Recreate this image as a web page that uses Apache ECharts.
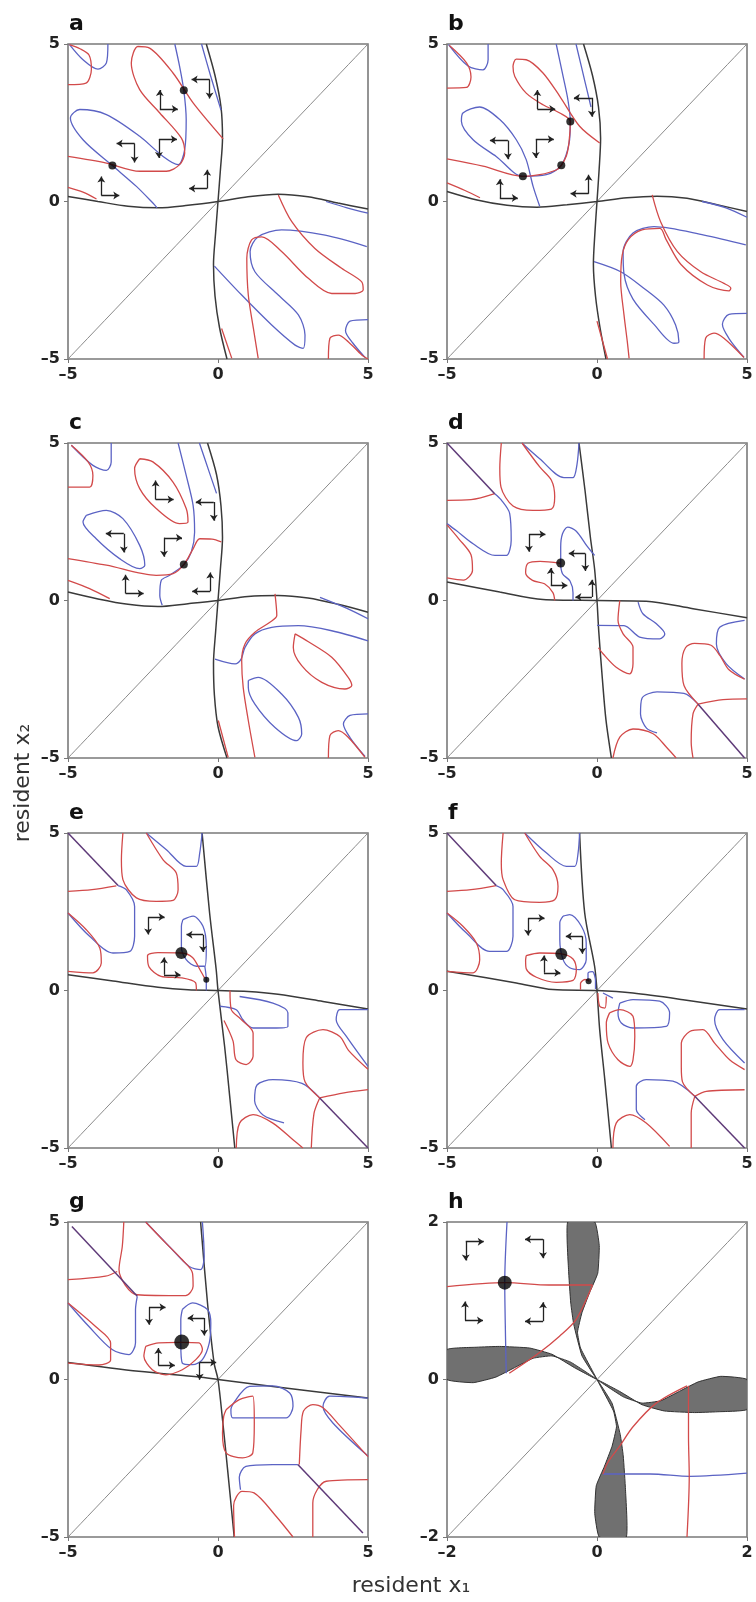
<!DOCTYPE html>
<html>
<head>
<meta charset="utf-8">
<script src="https://cdn.jsdelivr.net/npm/echarts@6/dist/echarts.min.js"></script>
<style>
  html, body { margin: 0; padding: 0; background: #fff; }
  #chart { width: 756px; height: 1602px; }
</style>
</head>
<body>
<div id="chart"></div>
<script>
// ---- data (resident x1, resident x2) ----
const letters = ['a', 'b', 'c', 'd', 'e', 'f', 'g', 'h']
const ticks5 = [-5, 0, 5]
const ticks2 = [-2, 0, 2]
const diag5 = [[-5, -5], [5, 5]]
const diag2 = [[-2, -2], [2, 2]]

// panel a
const aBlack = [
  [[-0.39, 5], [-0.1, 4], [0.1, 3], [0.15, 2], [0.08, 1], [0, 0], [-0.08, -1], [-0.15, -2], [-0.1, -3], [0.05, -4], [0.3, -5]],
  [[-5, 0.16], [-4, 0], [-3, -0.15], [-2, -0.2], [-1, -0.12], [0, 0], [1, 0.15], [2, 0.23], [3, 0.15], [4, -0.05], [5, -0.24]]
]
const aRed = [
  [[-5, 1.43], [-3.72, 1.22], [-2.61, 0.96], [-1.72, 0.96], [-1.28, 1.17], [-1.11, 1.54], [-1.22, 2.01], [-1.94, 2.81], [-2.61, 3.55], [-2.89, 4.4], [-2.67, 4.92], [-2.28, 4.87], [-1.5, 4.08], [-0.83, 3.13], [0.17, 1.99]],
  [[-5, 3.71], [-4.4, 3.76], [-4.22, 4.2], [-4.3, 4.65], [-4.6, 4.85], [-4.95, 4.98]],
  [[-5, 0.45], [-4.5, 0.3], [-4.05, 0.08]],
  [[2.01, 0.21], [2.46, -0.64], [3.23, -1.49], [4.12, -2.12], [4.79, -2.55], [4.84, -2.81], [4.57, -2.92], [3.79, -2.92], [3.01, -2.44], [2.12, -1.59], [1.46, -1.12], [1.12, -1.22], [0.96, -1.8], [1.01, -2.97], [1.18, -4.03], [1.34, -4.98]],
  [[3.68, -5], [3.73, -4.34], [4.01, -4.24], [4.34, -4.45], [4.79, -4.87], [5, -5]],
  [[0.12, -4.03], [0.46, -4.98]]
]
const aBlue = [
  [[-1.44, 5], [-1.28, 4.29], [-1.14, 3.53], [-1.06, 2.6], [-1.11, 1.65], [-1.33, 1.17], [-1.83, 1.43], [-2.61, 2.07], [-3.72, 2.76], [-4.61, 2.92], [-4.92, 2.65], [-4.5, 1.96], [-3.52, 1.14], [-2.72, 0.48], [-2.17, -0.05], [-2.03, -0.2]],
  [[-4.95, 4.98], [-4.5, 4.5], [-4.0, 4.2], [-3.72, 4.4], [-3.67, 5]],
  [[-0.55, 5], [-0.25, 4.0], [0.1, 2.9]],
  [[4.96, -1.43], [3.57, -1.07], [2.12, -0.9], [1.34, -1.12], [1.07, -1.59], [1.23, -2.23], [2.01, -2.97], [2.68, -3.6], [2.9, -4.24], [2.84, -4.66], [2.57, -4.56], [1.79, -3.92], [0.79, -2.97], [-0.12, -2.05]],
  [[3.6, 0.0], [4.3, -0.2], [5, -0.37]],
  [[5, -3.75], [4.4, -3.8], [4.25, -4.1], [4.5, -4.5], [4.9, -4.95]]
]
const aDots = [[-3.52, 1.14], [-1.14, 3.53]]
const aArrows = [[-1.94, 2.94, 1, 1], [-0.28, 3.87, -1, -1], [-2.78, 1.84, -1, -1], [-1.97, 1.98, 1, -1], [-3.89, 0.19, 1, 1], [-0.36, 0.41, -1, 1]]

// panel b
const bBlack = [
  [[-0.45, 5], [-0.15, 4], [0.05, 3], [0.12, 2], [0.07, 1], [0, 0], [-0.07, -1], [-0.12, -2], [-0.05, -3], [0.1, -4], [0.3, -5]],
  [[-5, 0.32], [-4, 0.05], [-3, -0.12], [-2, -0.18], [-1, -0.1], [0, 0], [1, 0.12], [2, 0.17], [3, 0.1], [4, -0.1], [5, -0.32]]
]
const bRed = [
  [[-5, 1.35], [-3.8, 1.12], [-2.47, 0.8], [-1.91, 0.85], [-1.36, 1.0], [-1.19, 1.15], [-1.02, 1.45], [-0.93, 1.9], [-0.89, 2.54], [-1.24, 2.81], [-1.8, 3.07], [-2.36, 3.44], [-2.74, 3.97], [-2.8, 4.29], [-2.69, 4.52], [-2.36, 4.5], [-1.8, 4.08], [-1.24, 3.34], [-0.58, 2.39], [0.09, 1.86]],
  [[-5, 3.6], [-4.35, 3.62], [-4.2, 3.95], [-4.35, 4.4], [-4.92, 4.95]],
  [[-5, 0.59], [-4.4, 0.35], [-3.9, 0.12]],
  [[1.84, 0.21], [2.12, -0.64], [2.68, -1.59], [3.46, -2.23], [4.23, -2.6], [4.46, -2.75], [4.4, -2.84], [3.68, -2.65], [2.8, -2.0], [2.3, -1.2], [2.1, -0.85], [1.5, -0.9], [1.05, -1.2], [0.84, -1.7], [0.79, -2.54], [0.9, -3.6], [1.01, -4.45], [1.07, -4.98]],
  [[3.57, -5], [3.62, -4.34], [3.9, -4.18], [4.23, -4.34], [4.9, -4.95]],
  [[0.0, -3.8], [0.35, -5]]
]
const bBlue = [
  [[-1.91, -0.15], [-2.13, 0.48], [-2.36, 1.33], [-2.69, 1.96], [-3.24, 2.6], [-3.91, 3.0], [-4.47, 2.81], [-4.52, 2.55], [-4.13, 1.96], [-3.36, 1.43], [-2.47, 0.8], [-1.69, 0.85], [-1.19, 1.15], [-0.93, 1.85], [-0.89, 2.54], [-0.97, 3.23], [-1.13, 3.97], [-1.36, 5]],
  [[-4.95, 4.98], [-4.3, 4.3], [-3.8, 4.18], [-3.63, 4.5], [-3.63, 5]],
  [[-0.7, 5], [-0.4, 3.8], [-0.2, 3.0]],
  [[-0.1, -1.91], [0.79, -2.23], [1.57, -2.76], [2.23, -3.29], [2.62, -3.92], [2.73, -4.45], [2.57, -4.5], [1.9, -3.9], [1.2, -3.1], [0.9, -2.3], [0.87, -1.6], [1.2, -1.0], [1.9, -0.8], [3.57, -1.07], [4.96, -1.38]],
  [[3.5, 0.0], [4.3, -0.2], [5, -0.5]],
  [[5, -3.55], [4.4, -3.58], [4.18, -3.9], [4.4, -4.35], [4.9, -4.95]]
]
const bDots = [[-0.89, 2.54], [-1.19, 1.15], [-2.47, 0.8]]
const bArrows = [[-1.99, 2.94, 1, 1], [-0.17, 3.29, -1, -1], [-2.97, 1.94, -1, -1], [-2.04, 1.98, 1, -1], [-3.24, 0.11, 1, 1], [-0.28, 0.25, -1, 1]]

// panel c
const cBlack = [
  [[-0.35, 5], [-0.05, 4], [0.1, 3], [0.15, 2], [0.08, 1], [0, 0], [-0.08, -1], [-0.15, -2], [-0.12, -3], [0, -4], [0.3, -5]],
  [[-5, 0.27], [-4, 0.05], [-3, -0.12], [-2, -0.19], [-1, -0.1], [0, 0], [1, 0.13], [2, 0.16], [3, 0.08], [4, -0.12], [5, -0.37]]
]
const cRed = [
  [[-2.61, 4.5], [-2.17, 4.4], [-1.5, 3.76], [-1.06, 2.92], [-1.0, 2.49], [-1.28, 2.44], [-2.06, 2.92], [-2.61, 3.55], [-2.78, 4.19], [-2.61, 4.5]],
  [[-5, 1.33], [-3.72, 1.12], [-2.06, 0.8], [-1.5, 0.85], [-1.14, 1.14], [-0.83, 1.64], [-0.61, 1.96], [-0.2, 1.95], [0.11, 1.86]],
  [[-5, 3.6], [-4.28, 3.6], [-4.17, 3.97], [-4.33, 4.4], [-4.89, 4.93]],
  [[-5, 0.64], [-4.28, 0.38], [-3.61, 0.06]],
  [[1.9, 0.21], [1.96, -0.48], [1.73, -0.69], [1.23, -1.01], [0.9, -1.38], [0.79, -1.91], [0.84, -2.76], [1.01, -3.81], [1.23, -4.98]],
  [[2.57, -1.06], [3.0, -1.3], [3.79, -1.8], [4.34, -2.44], [4.46, -2.7], [4.23, -2.81], [3.46, -2.6], [2.79, -2.07], [2.51, -1.49], [2.57, -1.06]],
  [[3.68, -5], [3.73, -4.29], [4.01, -4.13], [4.34, -4.34], [4.9, -4.98]],
  [[0.01, -3.81], [0.34, -4.98]]
]
const cBlue = [
  [[-1.33, 5], [-1.06, 3.97], [-0.83, 3.02], [-0.78, 2.17], [-0.89, 1.54], [-1.14, 1.14], [-1.61, 0.8], [-1.89, 0.64], [-1.94, 0.16], [-1.86, -0.15]],
  [[-4.39, 2.7], [-3.72, 2.86], [-3.17, 2.6], [-2.61, 1.75], [-2.44, 1.12], [-2.61, 1.01], [-3.28, 1.33], [-4.06, 1.96], [-4.5, 2.49], [-4.39, 2.7]],
  [[-4.89, 4.93], [-4.17, 4.29], [-3.72, 4.13], [-3.56, 4.4], [-3.56, 5]],
  [[-0.62, 5], [-0.3, 4.1], [-0.05, 3.4]],
  [[-0.1, -1.86], [0.57, -2.01], [0.77, -1.86], [0.9, -1.49], [1.23, -1.06], [1.79, -0.85], [2.68, -0.8], [3.79, -0.96], [5, -1.28]],
  [[1.01, -2.54], [1.34, -2.44], [2.12, -2.97], [2.68, -3.71], [2.79, -4.24], [2.62, -4.45], [1.9, -4.03], [1.23, -3.29], [1.01, -2.76], [1.01, -2.54]],
  [[3.4, 0.1], [4.3, -0.25], [5, -0.58]],
  [[5, -3.6], [4.4, -3.65], [4.18, -3.92], [4.4, -4.35], [4.9, -4.95]]
]
const cDots = [[-1.14, 1.14]]
const cArrows = [[-2.08, 3.21, 1, 1], [-0.14, 3.13, -1, -1], [-3.14, 2.12, -1, -1], [-1.8, 1.99, 1, -1], [-3.08, 0.22, 1, 1], [-0.26, 0.29, -1, 1]]

// panel d
const dBlack = [
  [[-0.6, 5], [-0.4, 3.5], [-0.22, 2], [-0.08, 1], [0, 0], [0.06, -1], [0.18, -2.5], [0.3, -3.8], [0.48, -5]],
  [[-5, 0.59], [-3.24, 0.27], [-1.8, 0.03], [0, 0], [1.64, -0.02], [3.2, -0.26], [5, -0.55]]
]
const dRed = [
  [[-5, 3.18], [-4.2, 3.2], [-3.41, 3.39]],
  [[-3.19, 5], [-3.24, 4.2], [-3.2, 3.6], [-2.8, 3.0], [-2.13, 2.86], [-1.52, 2.9], [-1.41, 3.3], [-1.52, 3.82], [-1.91, 4.24], [-2.5, 5]],
  [[-5, 0.72], [-4.45, 0.65], [-4.15, 0.95], [-4.2, 1.45], [-4.6, 1.95], [-5, 2.4]],
  [[-1.41, 0], [-1.47, 0.25], [-1.75, 0.53], [-2.15, 0.64], [-2.38, 0.88], [-2.3, 1.18], [-1.9, 1.24], [-1.21, 1.18]],
  [[0.76, 0], [0.7, -0.63], [0.87, -1.06], [1.2, -1.48], [1.2, -2.01], [1.09, -2.33], [0.64, -2.12], [0.2, -1.69], [0.05, -1.5]],
  [[3.37, -3.29], [2.9, -2.7], [2.83, -2.0], [2.95, -1.5], [3.25, -1.36], [3.8, -1.42], [4.1, -1.75], [4.4, -2.2], [4.92, -2.5]],
  [[5, -3.12], [4.2, -3.15], [3.37, -3.29]],
  [[0.53, -5], [0.76, -4.34], [1.2, -4.08], [1.87, -4.23], [2.31, -4.65], [2.64, -5]],
  [[3.37, -3.29], [3.2, -3.6], [3.14, -4.5], [3.2, -5]]
]
const dBlue = [
  [[-2.5, 5], [-1.91, 4.5], [-1.1, 3.9], [-0.8, 3.9], [-0.67, 4.3], [-0.6, 5]],
  [[-5, 2.44], [-4.69, 2.22], [-4.13, 1.8], [-3.4, 1.43], [-3.02, 1.43], [-2.86, 1.91], [-2.91, 2.76], [-3.2, 3.2], [-3.41, 3.39]],
  [[-0.8, 0], [-0.8, 0.25], [-0.9, 0.62], [-1.15, 0.85], [-1.21, 1.18], [-1.21, 1.7], [-1.15, 2.12], [-0.98, 2.33], [-0.69, 2.2], [-0.35, 1.75], [-0.08, 1.43]],
  [[1.37, -0.05], [1.53, -0.42], [1.98, -0.74], [2.26, -1.06], [2.09, -1.22], [1.42, -1.16], [0.9, -0.8], [0, -0.79]],
  [[4.92, -0.63], [4.09, -0.85], [3.98, -1.38], [4.31, -2.01], [4.92, -2.49]],
  [[3.37, -3.29], [2.9, -2.95], [2.0, -2.9], [1.5, -3.1], [1.45, -3.6], [1.65, -4.05], [2.0, -4.2]]
]
const dPurple = [[[-5, 5], [-3.41, 3.39]], [[3.37, -3.29], [4.92, -5]]]
const dDots = [[-1.21, 1.19]]
const dArrows = [[-2.27, 2.1, 1, -1], [-0.39, 1.49, -1, -1], [-1.54, 0.48, 1, 1], [-0.17, 0.11, -1, 1]]

// panel e
const eBlack = [
  [[-0.53, 5], [-0.28, 2.46], [-0.06, 0.66], [0, 0], [0.22, -1.77], [0.39, -3.36], [0.56, -5]],
  [[-5, 0.5], [-3.5, 0.3], [-2, 0.1], [-1, 0.02], [0, 0], [1, -0.03], [2, -0.12], [3.5, -0.35], [5, -0.59]]
]
const eRed = [
  [[-5, 3.15], [-4.2, 3.2], [-3.39, 3.32]],
  [[-3.17, 5], [-3.22, 4.15], [-3.17, 3.52], [-2.72, 2.94], [-2.06, 2.83], [-1.5, 2.86], [-1.33, 3.2], [-1.39, 3.73], [-1.83, 4.15], [-2.39, 5]],
  [[-5, 0.61], [-4.17, 0.56], [-3.89, 0.87], [-3.94, 1.35], [-4.39, 1.93], [-5, 2.46]],
  [[-0.72, 0.0], [-0.75, 0.25], [-1.2, 0.4], [-1.9, 0.45], [-2.3, 0.75], [-2.35, 1.1], [-2.0, 1.2], [-1.22, 1.19], [-0.85, 1.05], [-0.6, 0.66], [-0.45, 0.4]],
  [[0.4, 0], [0.44, -0.6], [0.75, -0.9], [1.17, -1.35], [1.17, -2.09], [0.94, -2.35], [0.6, -2.2], [0.5, -1.6], [0.2, -0.95]],
  [[3.39, -3.41], [2.9, -2.9], [2.83, -2.3], [2.94, -1.5], [3.5, -1.24], [4.06, -1.46], [4.35, -1.9], [5, -2.5]],
  [[5, -3.15], [4.2, -3.25], [3.39, -3.41]],
  [[0.61, -5], [0.72, -4.21], [1.17, -3.94], [1.83, -4.21], [2.5, -4.74], [2.83, -5]],
  [[3.39, -3.41], [3.2, -3.9], [3.11, -5]]
]
const eBlue = [
  [[-2.39, 5], [-1.72, 4.47], [-1.06, 3.94], [-0.72, 3.94], [-0.61, 4.36], [-0.53, 5]],
  [[-5, 2.46], [-4.28, 1.72], [-3.5, 1.19], [-2.94, 1.24], [-2.78, 1.72], [-2.78, 2.67], [-3.06, 3.2], [-3.33, 3.33]],
  [[-1.17, 2.25], [-0.83, 2.36], [-0.5, 2.04], [-0.39, 1.4], [-0.44, 0.77], [-0.72, 0.77], [-1.06, 0.98], [-1.22, 1.4], [-1.22, 2.04], [-1.17, 2.25]],
  [[-0.39, 0], [-0.39, 0.34], [-0.44, 0.77]],
  [[0.06, -0.5], [0.61, -0.61], [0.83, -0.93], [1.17, -1.19], [1.83, -1.19], [2.33, -1.14], [2.33, -0.71], [1.83, -0.4], [0.72, -0.19]],
  [[5, -0.61], [4.06, -0.61], [3.94, -0.93], [4.28, -1.46], [5, -2.41]],
  [[3.39, -3.41], [2.8, -2.95], [1.83, -2.83], [1.3, -3.0], [1.22, -3.5], [1.5, -3.95], [2.2, -4.2]]
]
const ePurple = [[[-5, 5], [-3.33, 3.33]], [[3.39, -3.41], [5, -5]]]
const eDots = [[-1.22, 1.19]]
const eSmallDots = [[-0.39, 0.34]]
const eArrows = [[-2.33, 2.33, 1, -1], [-0.5, 1.77, -1, -1], [-1.8, 0.5, 1, 1]]

// panel f
const fBlack = [
  [[-0.58, 5], [-0.41, 2.46], [-0.08, 0.77], [0, 0], [0.09, -1.25], [0.26, -2.83], [0.48, -5]],
  [[-5, 0.61], [-2.69, 0.24], [-1.47, 0.03], [0, 0], [1.2, -0.08], [2.87, -0.29], [5, -0.59]]
]
const fRed = [
  [[-5, 3.15], [-4.2, 3.2], [-3.36, 3.33]],
  [[-3.13, 5], [-3.19, 4.05], [-3.13, 3.52], [-2.74, 2.88], [-1.91, 2.8], [-1.41, 2.88], [-1.3, 3.31], [-1.47, 3.84], [-1.91, 4.26], [-2.41, 5]],
  [[-5, 0.61], [-4.13, 0.56], [-3.91, 0.98], [-4.02, 1.51], [-4.47, 2.04], [-5, 2.46]],
  [[-2.36, 1.11], [-1.91, 1.19], [-1.19, 1.16], [-0.8, 1.0], [-0.69, 0.64], [-0.8, 0.32], [-1.36, 0.26], [-2.02, 0.42], [-2.36, 0.69], [-2.38, 0.95], [-2.36, 1.11]],
  [[-0.55, 0.02], [-0.55, 0.22], [-0.4, 0.35], [-0.25, 0.3]],
  [[0.03, -0.08], [0.09, -0.5], [0.26, -0.56], [0.31, -0.19]],
  [[0.42, -0.71], [0.76, -0.61], [1.2, -0.82], [1.26, -1.46], [1.2, -2.2], [1.09, -2.41], [0.7, -2.2], [0.37, -1.67], [0.31, -1.03], [0.42, -0.71]],
  [[3.26, -3.36], [2.85, -2.9], [2.81, -2.41], [2.81, -1.67], [3.09, -1.3], [3.53, -1.24], [3.92, -1.67], [4.42, -2.2], [4.92, -2.51]],
  [[4.92, -3.15], [3.64, -3.2], [3.26, -3.36]],
  [[0.53, -5], [0.64, -4.21], [1.09, -3.94], [1.64, -4.21], [2.42, -4.95]],
  [[3.26, -3.36], [3.14, -3.89], [3.14, -5]]
]
const fBlue = [
  [[-2.41, 5], [-1.69, 4.37], [-1.02, 3.94], [-0.74, 3.94], [-0.63, 4.37], [-0.58, 5]],
  [[-5, 2.46], [-4.36, 1.83], [-3.58, 1.24], [-3.02, 1.24], [-2.8, 1.72], [-2.8, 2.67], [-3.13, 3.2], [-3.36, 3.33]],
  [[-1.13, 2.36], [-0.91, 2.41], [-0.52, 2.04], [-0.36, 1.51], [-0.36, 0.98], [-0.58, 0.66], [-0.91, 0.72], [-1.13, 0.98], [-1.24, 1.61], [-1.24, 2.15], [-1.13, 2.36]],
  [[-0.3, 0.3], [-0.3, 0.55], [-0.15, 0.6], [-0.05, 0.3], [-0.05, 0.05]],
  [[0.2, -0.08], [0.53, -0.24]],
  [[0.76, -0.4], [1.2, -0.29], [2.09, -0.34], [2.42, -0.71], [2.31, -1.14], [1.2, -1.19], [0.81, -1.03], [0.7, -0.71], [0.76, -0.4]],
  [[4.92, -0.61], [4.09, -0.61], [3.92, -0.93], [4.2, -1.56], [4.92, -2.3]],
  [[3.26, -3.36], [2.53, -2.88], [1.64, -2.83], [1.31, -3.04], [1.31, -3.78], [1.6, -4.1]]
]
const fPurple = [[[-5, 5], [-3.36, 3.33]], [[3.26, -3.36], [4.92, -5]]]
const fDots = [[-1.19, 1.16]]
const fSmallDots = [[-0.28, 0.29]]
const fArrows = [[-2.3, 2.3, 1, -1], [-0.49, 1.72, -1, -1], [-1.77, 0.56, 1, 1]]

// panel g
const gBlack = [
  [[-0.58, 5], [-0.35, 2.43], [-0.13, 0.52], [0, 0], [0.15, -1.27], [0.32, -2.86], [0.54, -5]],
  [[-5, 0.54], [-2.64, 0.26], [-0.63, 0.08], [0, 0], [1.83, -0.22], [5, -0.59]]
]
const gRed = [
  [[-5, 3.17], [-3.75, 3.28], [-3.36, 3.43]],
  [[-3.14, 5], [-3.19, 4.23], [-3.3, 3.49], [-2.69, 2.69], [-1.08, 2.66], [-0.83, 2.96], [-0.85, 3.38], [-1.19, 3.8], [-1.74, 4.33], [-2.41, 5]],
  [[-5, 0.52], [-3.97, 0.46], [-3.58, 0.62], [-3.58, 1.16], [-4.09, 1.69], [-5, 2.43]],
  [[-2.41, 1.05], [-1.97, 1.16], [-1.24, 1.18], [-0.63, 1.16], [-0.52, 0.95], [-0.74, 0.63], [-1.19, 0.31], [-1.74, 0.15], [-2.19, 0.31], [-2.47, 0.74], [-2.41, 1.05]],
  [[0.27, -0.96], [0.71, -0.64], [1.16, -0.53], [1.21, -1.38], [1.16, -2.33], [0.82, -2.49], [0.27, -2.33], [0.15, -1.7], [0.19, -1.17], [0.27, -0.96]],
  [[2.71, -2.7], [2.77, -1.6], [2.85, -1.0], [3.16, -0.8], [3.5, -0.9], [4.0, -1.4], [5, -2.45]],
  [[5, -3.18], [3.61, -3.23], [3.16, -3.92], [3.16, -5]],
  [[0.55, -5], [0.52, -4.0], [0.8, -3.55], [1.2, -3.6], [1.9, -4.3], [2.5, -5]]
]
const gBlue = [
  [[-2.41, 5], [-1.63, 4.23], [-0.96, 3.59], [-0.58, 3.49], [-0.46, 3.91], [-0.52, 5]],
  [[-5, 2.43], [-4.31, 1.69], [-3.53, 0.95], [-2.97, 0.79], [-2.75, 1.16], [-2.75, 2.22], [-2.69, 2.64]],
  [[-1.19, 2.22], [-0.85, 2.43], [-0.35, 2.22], [-0.24, 1.79], [-0.29, 1.16], [-0.52, 0.63], [-0.85, 0.47], [-1.19, 0.52], [-1.24, 1.16], [-1.24, 1.9], [-1.19, 2.22]],
  [[0.6, -0.64], [1.05, -0.22], [1.83, -0.2], [2.39, -0.43], [2.5, -0.85], [2.27, -1.22], [1.27, -1.22], [0.49, -1.22], [0.43, -0.96], [0.6, -0.64]],
  [[5, -0.59], [3.72, -0.53], [3.5, -0.85], [3.83, -1.38], [5, -2.43]],
  [[2.66, -2.7], [1.82, -2.7], [0.93, -2.76], [0.71, -3.1], [0.75, -3.5]]
]
const gPurple = [[[-4.87, 4.86], [-2.69, 2.64]], [[2.66, -2.7], [4.83, -4.87]]]
const gDots = [[-1.21, 1.19]]
const gArrows = [[-2.3, 2.29, 1, -1], [-0.46, 1.95, -1, -1], [-1.99, 0.45, 1, 1], [-0.61, 0.54, 1, -1]]

// panel h (zoom, -2..2)
const hWings = [
  [[-2, 0.38], [-1.6, 0.41], [-1.3, 0.42], [-0.9, 0.4], [-0.6, 0.32], [-0.3, 0.15], [0, 0], [-0.35, 0.22], [-0.6, 0.3], [-0.85, 0.27], [-1.1, 0.15], [-1.35, 0.03], [-1.65, -0.04], [-2, 0.0]],
  [[2, -0.38], [1.6, -0.41], [1.3, -0.42], [0.9, -0.4], [0.6, -0.32], [0.3, -0.15], [0, 0], [0.35, -0.22], [0.6, -0.3], [0.85, -0.27], [1.1, -0.15], [1.35, -0.03], [1.65, 0.04], [2, 0.0]],
  [[-0.39, 2], [-0.38, 1.4], [-0.35, 0.97], [-0.31, 0.7], [-0.2, 0.3], [0, 0], [-0.22, 0.4], [-0.26, 0.6], [-0.2, 0.85], [-0.1, 1.1], [0.01, 1.35], [0.03, 1.7], [-0.03, 2]],
  [[0.39, -2], [0.38, -1.4], [0.35, -0.97], [0.31, -0.7], [0.2, -0.3], [0, 0], [0.22, -0.4], [0.26, -0.6], [0.2, -0.85], [0.1, -1.1], [-0.01, -1.35], [-0.03, -1.7], [0.03, -2]]
]
const hRed = [
  [[-2, 1.18], [-1.22, 1.23], [-0.64, 1.2], [-0.06, 1.2]],
  [[-0.06, 1.2], [-0.28, 0.76], [-0.5, 0.55], [-0.77, 0.34], [-1.17, 0.08]],
  [[1.22, -0.08], [1.22, -0.72], [1.23, -1.23], [1.2, -2]],
  [[1.2, -0.08], [0.79, -0.3], [0.48, -0.6], [0.3, -0.85], [0.14, -1.06], [0.08, -1.2]]
]
const hBlue = [
  [[-1.2, 2], [-1.23, 1.23], [-1.22, 0.55], [-1.21, 0.08]],
  [[0.08, -1.2], [0.71, -1.2], [1.24, -1.23], [2, -1.19]]
]
const hDots = [[-1.23, 1.23]]
const hArrows = [[-1.75, 1.75, 1, -1], [-0.72, 1.78, -1, -1], [-1.76, 0.75, 1, 1], [-0.72, 0.74, -1, 1]]

// ---- layout / styles ----
const RED = '#d24a4a'
const BLUE = '#5b63c4'
const PURPLE = '#5e3a78'
const BLACK = '#3a3a3a'
const DIAG = '#8a8a8a'
const colLeft = [68, 447]
const rowTop = [44, 443, 833, 1222]
const boxW = 300
const boxH = 315

const panels = [
  { black: aBlack, red: aRed, blue: aBlue, purple: [], dots: aDots, small: [], arrows: aArrows, dot: 8, arm: 0.6 },
  { black: bBlack, red: bRed, blue: bBlue, purple: [], dots: bDots, small: [], arrows: bArrows, dot: 8, arm: 0.6 },
  { black: cBlack, red: cRed, blue: cBlue, purple: [], dots: cDots, small: [], arrows: cArrows, dot: 8, arm: 0.6 },
  { black: dBlack, red: dRed, blue: dBlue, purple: dPurple, dots: dDots, small: [], arrows: dArrows, dot: 9, arm: 0.55 },
  { black: eBlack, red: eRed, blue: eBlue, purple: ePurple, dots: eDots, small: eSmallDots, arrows: eArrows, dot: 12, arm: 0.55 },
  { black: fBlack, red: fRed, blue: fBlue, purple: fPurple, dots: fDots, small: fSmallDots, arrows: fArrows, dot: 12, arm: 0.55 },
  { black: gBlack, red: gRed, blue: gBlue, purple: gPurple, dots: gDots, small: [], arrows: gArrows, dot: 15, arm: 0.55 },
  { black: [], red: hRed, blue: hBlue, purple: [], dots: hDots, small: [], arrows: hArrows, dot: 14, arm: 0.24 }
]

const chart = echarts.init(document.getElementById('chart'), null, { renderer: 'canvas' })

const grids = []
const xAxes = []
const yAxes = []
const series = []
const graphics = []

const labelStyle = {
  color: '#222',
  fontSize: 16,
  fontWeight: 'bold',
  fontFamily: 'DejaVu Sans',
  formatter: v => (v < 0 ? '\u2013' + Math.abs(v) : String(v))
}

function curves (i, list, color, width, z) {
  list.forEach(pts => {
    series.push({
      type: 'line',
      xAxisIndex: i,
      yAxisIndex: i,
      data: pts,
      smooth: 0.3,
      showSymbol: false,
      silent: true,
      lineStyle: { color: color, width: width },
      z: z
    })
  })
}

panels.forEach((p, i) => {
  const col = i % 2
  const row = Math.floor(i / 2)
  const ticks = i === 7 ? ticks2 : ticks5
  grids.push({
    left: colLeft[col], top: rowTop[row], width: boxW, height: boxH,
    show: true, borderColor: '#7a7a7a', borderWidth: 1.6, backgroundColor: 'transparent'
  })
  const axisCommon = {
    type: 'value',
    gridIndex: i,
    min: ticks[0],
    max: ticks[2],
    interval: ticks[2],
    splitLine: { show: false },
    axisLine: { show: false, onZero: false },
    axisTick: { show: true, length: 4, lineStyle: { color: '#777' } },
    axisLabel: labelStyle
  }
  xAxes.push(Object.assign({}, axisCommon))
  yAxes.push(Object.assign({}, axisCommon))

  curves(i, [i === 7 ? diag2 : diag5], DIAG, 1, 1)
  curves(i, p.black, BLACK, 1.5, 2)
  curves(i, p.blue, BLUE, 1.3, 3)
  curves(i, p.red, RED, 1.3, 3)
  curves(i, p.purple, PURPLE, 1.5, 3)

  // L-shaped direction arrows: corner + horizontal arm + vertical arm
  const arms = []
  p.arrows.forEach(([cx, cy, hx, vy]) => {
    arms.push({ coords: [[cx, cy], [cx + hx * p.arm, cy]] })
    arms.push({ coords: [[cx, cy], [cx, cy + vy * p.arm]] })
  })
  series.push({
    type: 'lines',
    coordinateSystem: 'cartesian2d',
    xAxisIndex: i,
    yAxisIndex: i,
    data: arms,
    symbol: ['none', 'arrow'],
    symbolSize: 6,
    silent: true,
    lineStyle: { color: '#222', width: 1.3, opacity: 1, curveness: 0 },
    z: 5
  })

  series.push({
    type: 'scatter', xAxisIndex: i, yAxisIndex: i, data: p.dots,
    symbolSize: p.dot, itemStyle: { color: '#000' }, silent: true, z: 6
  })
  if (p.small.length) {
    series.push({
      type: 'scatter', xAxisIndex: i, yAxisIndex: i, data: p.small,
      symbolSize: 6, itemStyle: { color: '#000' }, silent: true, z: 6
    })
  }

  graphics.push({
    type: 'text',
    x: colLeft[col] + 1,
    y: rowTop[row] - 9,
    style: { text: letters[i], font: 'bold 22px "DejaVu Sans"', fill: '#111', align: 'left', verticalAlign: 'bottom' }
  })
})

// shaded regions of panel h (clipped to the box)
series.push({
  type: 'custom',
  xAxisIndex: 7,
  yAxisIndex: 7,
  data: hWings.map(() => [0, 0]),
  silent: true,
  clip: true,
  z: 1,
  renderItem: (params, api) => ({
    type: 'polygon',
    shape: { points: hWings[params.dataIndex].map(pt => api.coord(pt)), smooth: 0.12 },
    style: { fill: '#707070', stroke: '#333', lineWidth: 1 }
  })
})

graphics.push({
  type: 'text',
  x: 23,
  y: 783,
  rotation: Math.PI / 2,
  style: { text: 'resident x\u2082', font: '22px "DejaVu Sans"', fill: '#333', align: 'center', verticalAlign: 'middle' }
})
graphics.push({
  type: 'text',
  x: 411,
  y: 1586,
  style: { text: 'resident x\u2081', font: '22px "DejaVu Sans"', fill: '#333', align: 'center', verticalAlign: 'middle' }
})

chart.setOption({
  animation: false,
  backgroundColor: '#fff',
  grid: grids,
  xAxis: xAxes,
  yAxis: yAxes,
  series: series,
  graphic: graphics
})
</script>
</body>
</html>
